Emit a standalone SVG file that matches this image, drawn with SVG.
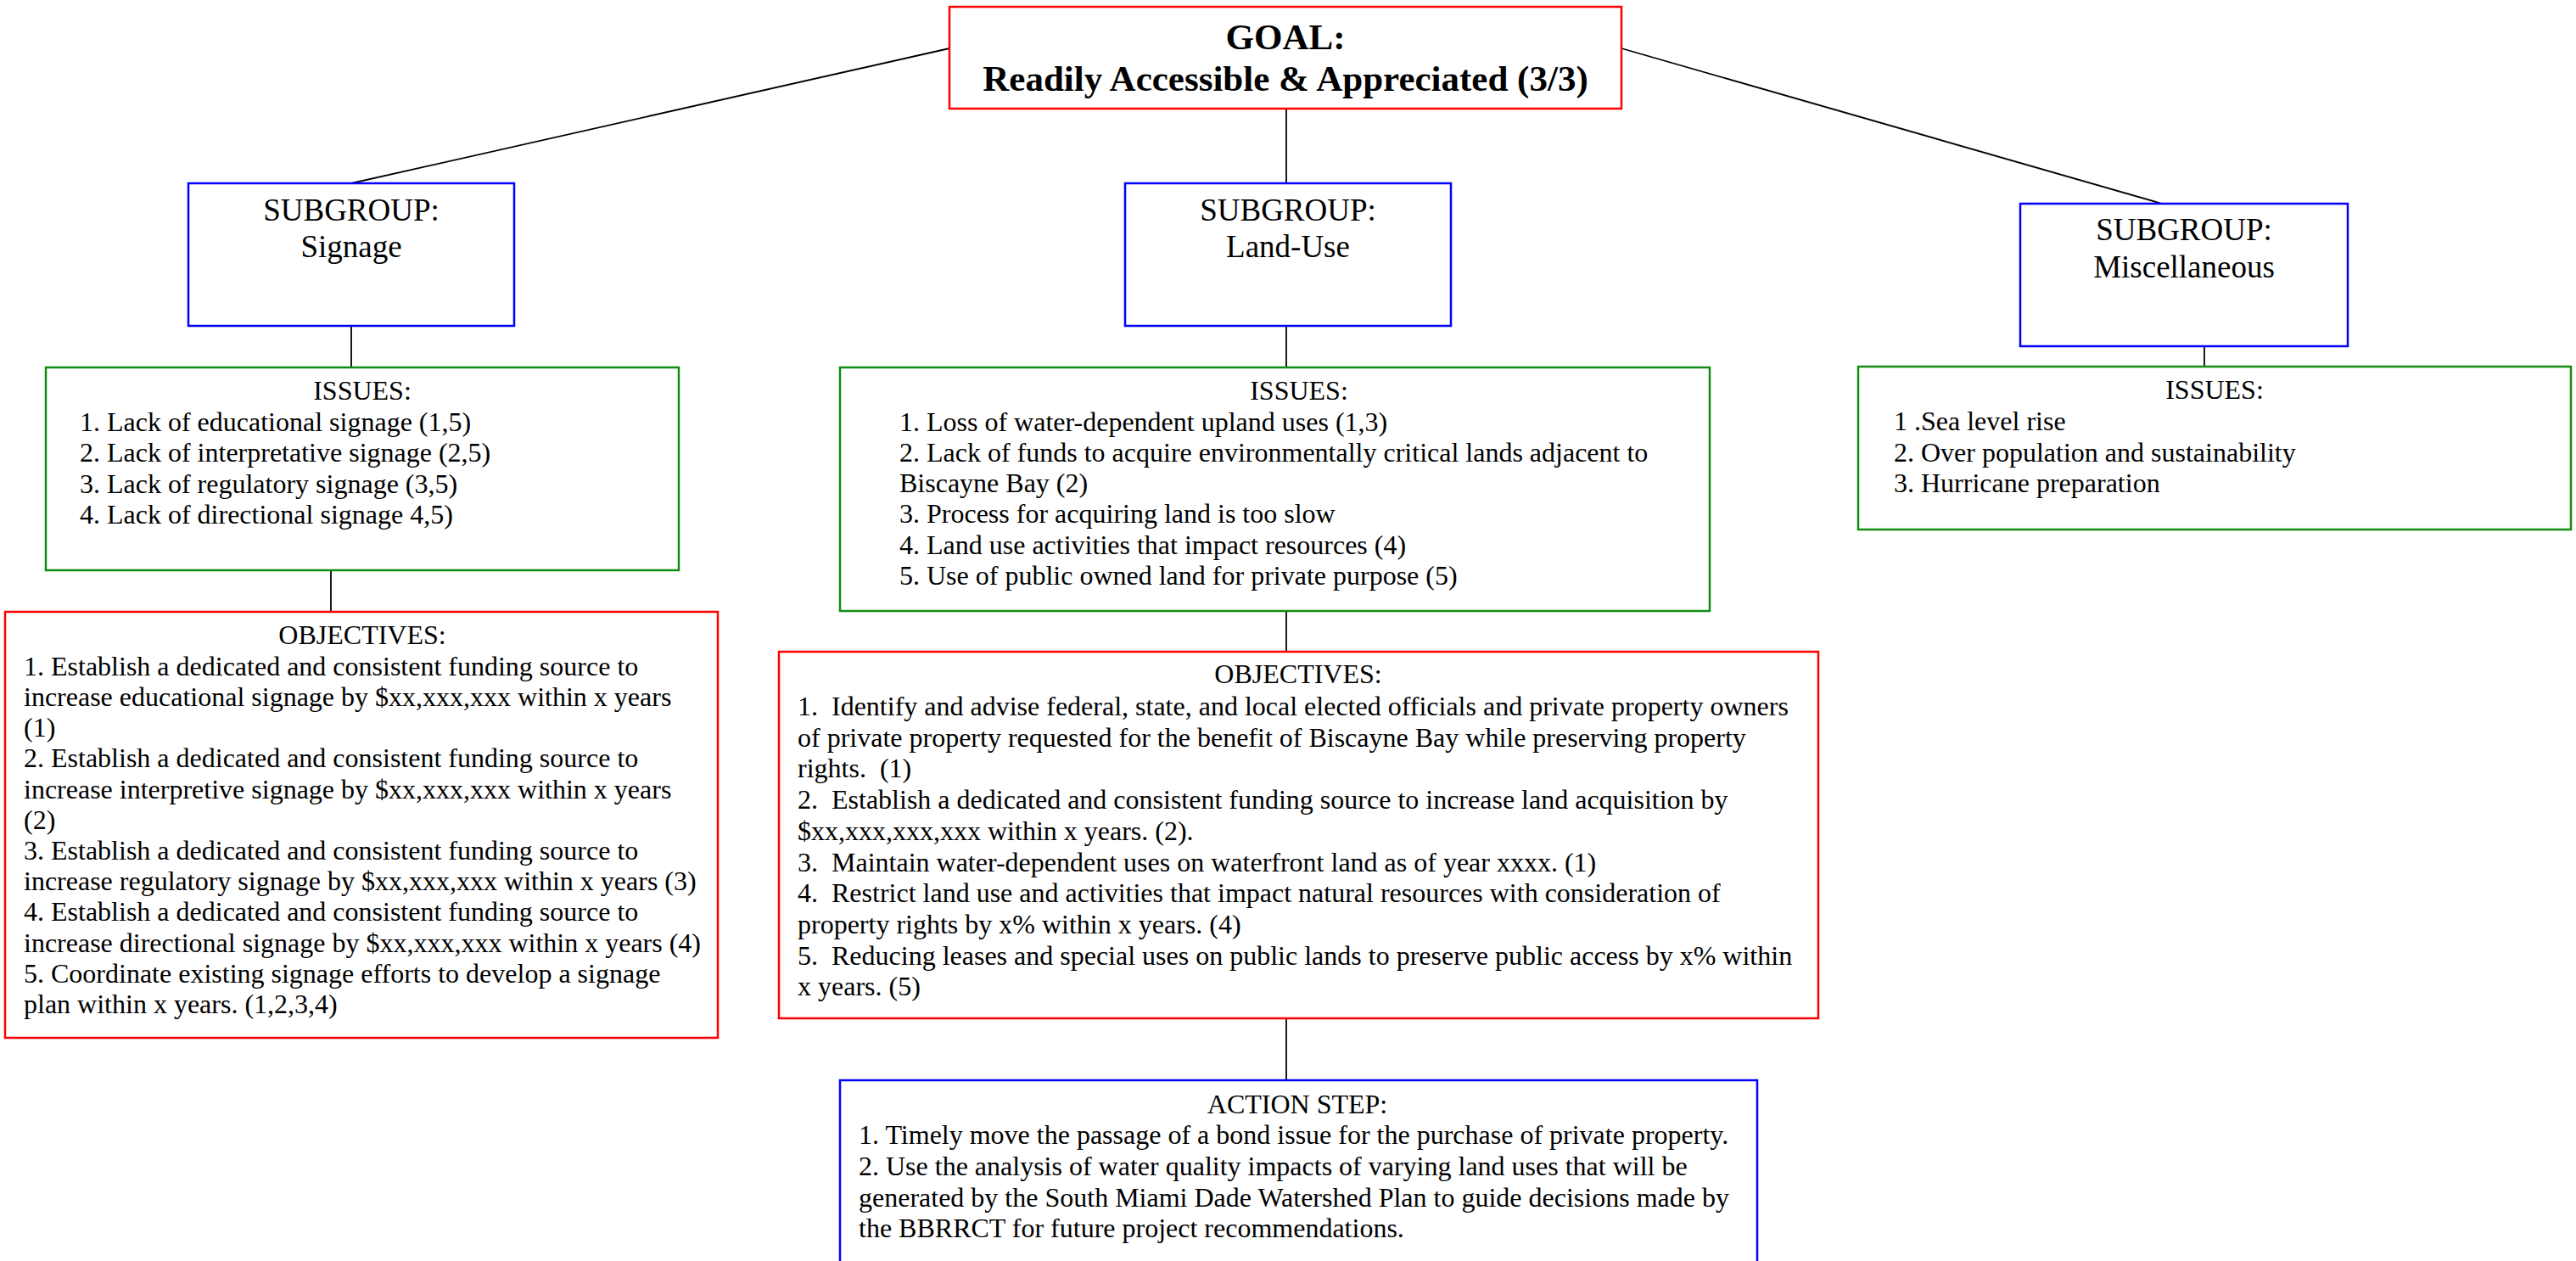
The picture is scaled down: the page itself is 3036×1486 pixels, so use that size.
<svg xmlns="http://www.w3.org/2000/svg" width="3036" height="1486" viewBox="0 0 3036 1486">
<style>
text{font-family:"Liberation Serif","Times New Roman",serif;fill:#000;white-space:pre}
.goal{font-size:43px;font-weight:bold;text-anchor:middle}
.sub{font-size:37px;text-anchor:middle}
.b{font-size:32px}
.c{text-anchor:middle}
.red{fill:#fff;stroke:#ff0000;stroke-width:2.5}
.blue{fill:#fff;stroke:#0000ff;stroke-width:2.5}
.green{fill:#fff;stroke:#118c11;stroke-width:2.5}
.con{stroke:#000;stroke-width:1.8;fill:none}
</style>
<rect width="3036" height="1486" fill="#fff"/>
<g id="connectors">
<line class="con" x1="1119" y1="57" x2="414" y2="216"/>
<line class="con" x1="1516" y1="128" x2="1516" y2="216"/>
<line class="con" x1="1911" y1="57" x2="2548" y2="240"/>
<line class="con" x1="414" y1="384" x2="414" y2="433"/>
<line class="con" x1="390" y1="672" x2="390" y2="721"/>
<line class="con" x1="1516" y1="384" x2="1516" y2="433"/>
<line class="con" x1="1516" y1="720" x2="1516" y2="768"/>
<line class="con" x1="1516" y1="1200" x2="1516" y2="1273"/>
<line class="con" x1="2598" y1="408" x2="2598" y2="432"/>
</g>
<g id="goal">
<rect class="red" x="1119" y="8" width="792" height="120"/>
<text class="goal" x="1515" y="58">GOAL:</text>
<text class="goal" x="1515" y="107">Readily Accessible &amp; Appreciated (3/3)</text>
</g>
<g id="sub-signage">
<rect class="blue" x="222" y="216" width="384" height="168"/>
<text class="sub" x="414" y="260">SUBGROUP:</text>
<text class="sub" x="414" y="303">Signage</text>
</g>
<g id="sub-landuse">
<rect class="blue" x="1326" y="216" width="384" height="168"/>
<text class="sub" x="1518" y="260">SUBGROUP:</text>
<text class="sub" x="1518" y="303">Land-Use</text>
</g>
<g id="sub-misc">
<rect class="blue" x="2381" y="240" width="386" height="168"/>
<text class="sub" x="2574" y="283">SUBGROUP:</text>
<text class="sub" x="2574" y="327">Miscellaneous</text>
</g>
<g id="issues-signage">
<rect class="green" x="54" y="433" width="746" height="239"/>
<text class="b c" x="427" y="471">ISSUES:</text>
<text class="b" x="94" y="507.5">1. Lack of educational signage (1,5)</text>
<text class="b" x="94" y="544">2. Lack of interpretative signage (2,5)</text>
<text class="b" x="94" y="580.7">3. Lack of regulatory signage (3,5)</text>
<text class="b" x="94" y="617.3">4. Lack of directional signage 4,5)</text>
</g>
<g id="objectives-signage">
<rect class="red" x="6" y="721" width="840" height="502"/>
<text class="b c" x="427" y="759">OBJECTIVES:</text>
<text class="b" x="28" y="795.7">1. Establish a dedicated and consistent funding source to</text>
<text class="b" x="28" y="831.9">increase educational signage by $xx,xxx,xxx within x years</text>
<text class="b" x="28" y="868.1">(1)</text>
<text class="b" x="28" y="904.3">2. Establish a dedicated and consistent funding source to</text>
<text class="b" x="28" y="940.5">increase interpretive signage by $xx,xxx,xxx within x years</text>
<text class="b" x="28" y="976.7">(2)</text>
<text class="b" x="28" y="1012.9">3. Establish a dedicated and consistent funding source to</text>
<text class="b" x="28" y="1049.1">increase regulatory signage by $xx,xxx,xxx within x years (3)</text>
<text class="b" x="28" y="1085.3">4. Establish a dedicated and consistent funding source to</text>
<text class="b" x="28" y="1121.5">increase directional signage by $xx,xxx,xxx within x years (4)</text>
<text class="b" x="28" y="1157.7">5. Coordinate existing signage efforts to develop a signage</text>
<text class="b" x="28" y="1193.9">plan within x years. (1,2,3,4)</text>
</g>
<g id="issues-landuse">
<rect class="green" x="990" y="433" width="1025" height="287"/>
<text class="b c" x="1531" y="471">ISSUES:</text>
<text class="b" x="1060" y="507.5">1. Loss of water-dependent upland uses (1,3)</text>
<text class="b" x="1060" y="543.8">2. Lack of funds to acquire environmentally critical lands adjacent to</text>
<text class="b" x="1060" y="580.1">Biscayne Bay (2)</text>
<text class="b" x="1060" y="616.4">3. Process for acquiring land is too slow</text>
<text class="b" x="1060" y="652.7">4. Land use activities that impact resources (4)</text>
<text class="b" x="1060" y="689">5. Use of public owned land for private purpose (5)</text>
</g>
<g id="objectives-landuse">
<rect class="red" x="918" y="768" width="1225" height="432"/>
<text class="b c" x="1530" y="805">OBJECTIVES:</text>
<text class="b" x="940" y="843">1.  Identify and advise federal, state, and local elected officials and private property owners</text>
<text class="b" x="940" y="879.7">of private property requested for the benefit of Biscayne Bay while preserving property</text>
<text class="b" x="940" y="916.4">rights.  (1)</text>
<text class="b" x="940" y="953.1">2.  Establish a dedicated and consistent funding source to increase land acquisition by</text>
<text class="b" x="940" y="989.8">$xx,xxx,xxx,xxx within x years. (2).</text>
<text class="b" x="940" y="1026.5">3.  Maintain water-dependent uses on waterfront land as of year xxxx. (1)</text>
<text class="b" x="940" y="1063.2">4.  Restrict land use and activities that impact natural resources with consideration of</text>
<text class="b" x="940" y="1099.9">property rights by x% within x years. (4)</text>
<text class="b" x="940" y="1136.6">5.  Reducing leases and special uses on public lands to preserve public access by x% within</text>
<text class="b" x="940" y="1173.3">x years. (5)</text>
</g>
<g id="action-step">
<rect class="blue" x="990" y="1273" width="1081" height="240"/>
<text class="b c" x="1529" y="1312">ACTION STEP:</text>
<text class="b" x="1012" y="1348.3">1. Timely move the passage of a bond issue for the purchase of private property.</text>
<text class="b" x="1012" y="1385">2. Use the analysis of water quality impacts of varying land uses that will be</text>
<text class="b" x="1012" y="1421.7">generated by the South Miami Dade Watershed Plan to guide decisions made by</text>
<text class="b" x="1012" y="1458.3">the BBRRCT for future project recommendations.</text>
</g>
<g id="issues-misc">
<rect class="green" x="2190" y="432" width="840" height="192"/>
<text class="b c" x="2610" y="470">ISSUES:</text>
<text class="b" x="2232" y="507">1 .Sea level rise</text>
<text class="b" x="2232" y="543.5">2. Over population and sustainability</text>
<text class="b" x="2232" y="580">3. Hurricane preparation</text>
</g>
</svg>
